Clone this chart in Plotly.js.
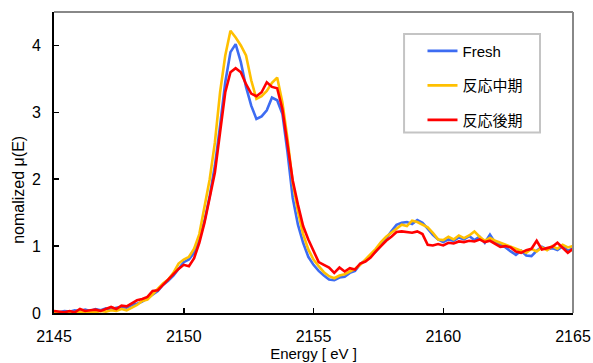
<!DOCTYPE html>
<html>
<head>
<meta charset="utf-8">
<script src="https://cdn.plot.ly/plotly-3.0.1.min.js"></script>
<style>html,body{margin:0;padding:0;background:#fff}#chart{width:593px;height:363px}</style>
</head>
<body>
<div id="chart"></div>
<script>
const energy = [2145.0,2145.2,2145.4,2145.6,2145.8,2146.0,2146.2,2146.4,2146.6,2146.8,
2147.0,2147.2,2147.4,2147.6,2147.8,2148.0,2148.2,2148.4,2148.6,2148.8,
2149.0,2149.2,2149.4,2149.6,2149.8,2150.0,2150.2,2150.4,2150.6,2150.8,
2151.0,2151.2,2151.4,2151.6,2151.8,2152.0,2152.2,2152.4,2152.6,2152.8,
2153.0,2153.2,2153.4,2153.6,2153.8,2154.0,2154.2,2154.4,2154.6,2154.8,
2155.0,2155.2,2155.4,2155.6,2155.8,2156.0,2156.2,2156.4,2156.6,2156.8,
2157.0,2157.2,2157.4,2157.6,2157.8,2158.0,2158.2,2158.4,2158.6,2158.8,
2159.0,2159.2,2159.4,2159.6,2159.8,2160.0,2160.2,2160.4,2160.6,2160.8,
2161.0,2161.2,2161.4,2161.6,2161.8,2162.0,2162.2,2162.4,2162.6,2162.8,
2163.0,2163.2,2163.4,2163.6,2163.8,2164.0,2164.2,2164.4,2164.6,2164.8,2165.0];

const fresh = [0.02,0.01,0.03,0.02,0.04,0.03,0.05,0.03,0.06,0.04,
0.07,0.05,0.08,0.09,0.08,0.12,0.14,0.17,0.22,0.27,
0.33,0.42,0.48,0.56,0.66,0.76,0.80,0.90,1.10,1.38,
1.75,2.20,2.80,3.45,3.90,4.02,3.75,3.38,3.10,2.90,
2.94,3.03,3.22,3.18,2.98,2.40,1.72,1.32,1.05,0.84,
0.72,0.63,0.56,0.50,0.49,0.53,0.54,0.60,0.63,0.73,
0.79,0.85,0.92,1.01,1.12,1.22,1.32,1.35,1.36,1.33,
1.39,1.35,1.26,1.17,1.10,1.06,1.10,1.08,1.13,1.10,
1.15,1.09,1.14,1.05,1.17,1.05,1.02,0.98,0.92,0.87,
0.93,0.86,0.85,0.93,0.99,0.95,0.97,0.94,1.00,0.93,0.97];

const midReaction = [0.00,0.01,-0.01,0.01,0.00,0.02,0.01,0.02,0.01,0.03,
0.02,0.04,0.03,0.06,0.04,0.08,0.12,0.18,0.20,0.28,
0.36,0.44,0.50,0.60,0.74,0.80,0.84,0.96,1.18,1.58,
2.00,2.55,3.30,3.85,4.22,4.12,4.00,3.85,3.48,3.20,
3.24,3.32,3.44,3.52,3.15,2.60,1.95,1.52,1.18,0.95,
0.80,0.70,0.61,0.55,0.52,0.56,0.58,0.62,0.66,0.72,
0.80,0.88,0.96,1.06,1.14,1.20,1.26,1.32,1.30,1.38,
1.36,1.32,1.28,1.20,1.10,1.09,1.14,1.10,1.16,1.12,
1.16,1.22,1.14,1.08,1.12,1.08,1.05,1.02,0.98,0.95,
0.93,0.90,0.96,0.92,0.98,0.94,1.00,0.96,1.02,0.98,1.00];

const lateReaction = [0.03,0.02,0.01,0.03,0.01,0.06,0.03,0.04,0.05,0.03,
0.06,0.09,0.06,0.11,0.10,0.14,0.19,0.21,0.24,0.33,
0.34,0.42,0.50,0.58,0.66,0.72,0.70,0.82,1.05,1.35,
1.72,2.10,2.70,3.30,3.60,3.66,3.60,3.42,3.28,3.24,
3.30,3.45,3.38,3.36,3.05,2.48,1.98,1.62,1.30,1.10,
0.93,0.76,0.72,0.68,0.60,0.68,0.62,0.67,0.65,0.74,
0.77,0.83,0.92,1.00,1.08,1.14,1.21,1.22,1.21,1.20,
1.22,1.18,1.02,1.01,1.03,1.01,1.05,1.04,1.07,1.06,
1.08,1.07,1.10,1.06,1.08,1.03,0.99,1.00,0.98,0.92,
0.90,0.94,0.96,1.08,0.95,0.97,0.99,1.05,0.97,0.90,0.96];

const seriesNames = ['Fresh', '反応中期', '反応後期'];
const xTicks = [2145, 2150, 2155, 2160, 2165];
const yTicks = [0, 1, 2, 3, 4];

const colors = ['#3d6cf2', '#ffc000', '#ff0000'];
const ys = [fresh, midReaction, lateReaction];
const font = 'Arial, "Liberation Sans", "Noto Sans CJK JP", sans-serif';

const traces = ys.map((y, i) => ({
  x: energy, y: y, type: 'scatter', mode: 'lines', name: seriesNames[i],
  legendgroup: 'g' + i,
  line: {color: colors[i], width: 2.6}
}));

const layout = {
  width: 593, height: 363,
  margin: {l: 54, r: 20, t: 12, b: 50},
  paper_bgcolor: '#fff', plot_bgcolor: '#fff',
  font: {family: font, size: 16, color: '#000'},
  showlegend: true,
  legend: {
    x: 0.71, y: 0.925, xanchor: 'left', yanchor: 'top',
    bgcolor: 'rgba(0,0,0,0)', borderwidth: 0,
    font: {family: font, size: 15, color: '#000'},
    tracegroupgap: 12
  },
  xaxis: {
    range: [2145, 2165], tickvals: xTicks, ticktext: xTicks.map(String),
    ticks: 'inside', ticklen: 5, tickwidth: 1.5, tickcolor: '#000',
    showline: true, linecolor: '#000', linewidth: 2,
    showgrid: false, zeroline: false,
    ticklabelstandoff: 8,
    tickfont: {family: font, size: 16},
    title: {text: 'Energy [ eV ]', font: {family: font, size: 15}, standoff: 2}
  },
  yaxis: {
    range: [0, 4.5], tickvals: yTicks, ticktext: yTicks.map(String),
    ticks: 'inside', ticklen: 5, tickwidth: 1.5, tickcolor: '#000',
    showline: true, linecolor: '#000', linewidth: 2,
    showgrid: false, zeroline: false,
    ticklabelstandoff: 8,
    tickfont: {family: font, size: 16}
  },
  annotations: [{
    text: 'nomalized μ(E)', xref: 'paper', yref: 'paper',
    x: -0.069, y: 0.41, xanchor: 'center', yanchor: 'middle',
    textangle: -90, showarrow: false,
    font: {family: font, size: 16, color: '#000'}
  }],
  shapes: [
    {type: 'line', xref: 'paper', yref: 'paper', x0: 0, x1: 1, y0: 1, y1: 1, line: {color: '#888', width: 2}},
    {type: 'line', xref: 'paper', yref: 'paper', x0: 1, x1: 1, y0: 0, y1: 1, line: {color: '#888', width: 2}},
    {type: 'rect', xref: 'paper', yref: 'paper', x0: 0.6745, x1: 0.9364, y0: 0.6, y1: 0.927, line: {color: '#c4c4c4', width: 2}, fillcolor: 'rgba(0,0,0,0)'}
  ]
};

Plotly.newPlot('chart', traces, layout, {displayModeBar: false, staticPlot: true});
</script>
</body>
</html>
